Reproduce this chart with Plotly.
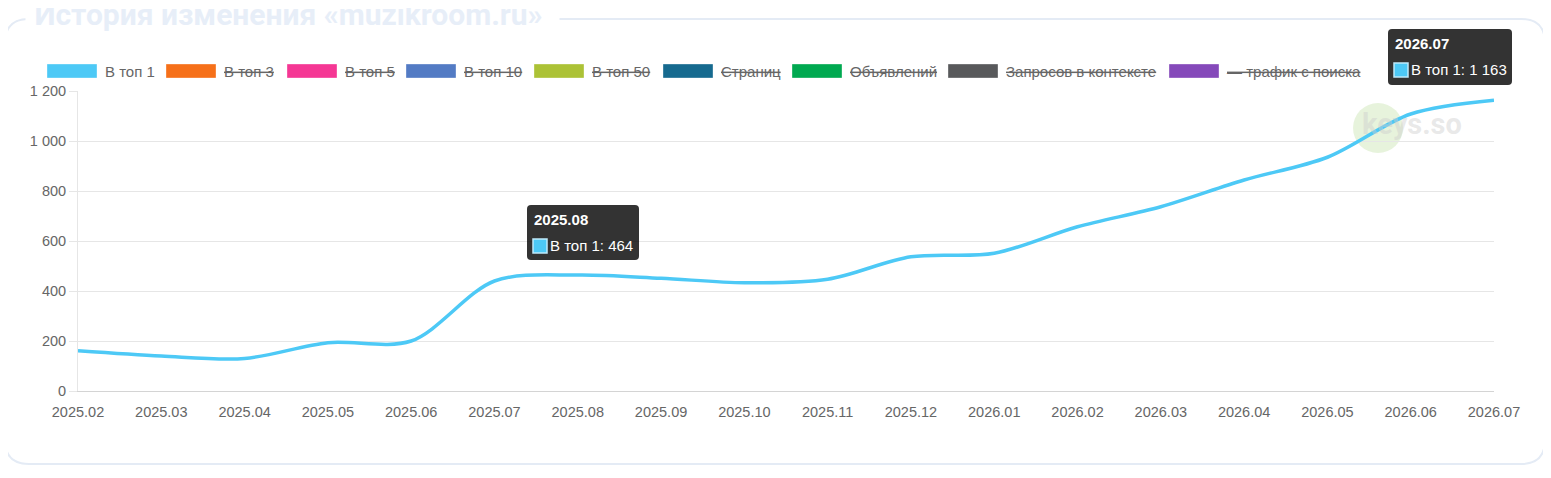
import plotly.graph_objects as go

# ── 1. DATOS ──────────────────────────────────────────────────────────────────
meses = ['2025.02', '2025.03', '2025.04', '2025.05', '2025.06', '2025.07',
         '2025.08', '2025.09', '2025.10', '2025.11', '2025.12', '2026.01',
         '2026.02', '2026.03', '2026.04', '2026.05', '2026.06', '2026.07']
top1 = [161, 140, 130, 193, 200, 440, 464, 451, 433, 447, 537, 551,
        657, 737, 844, 935, 1108, 1163]

series_nombres = ['В топ 1', 'В топ 3', 'В топ 5', 'В топ 10', 'В топ 50',
                  'Страниц', 'Объявлений', 'Запросов в контексте', '— трафик с поиска']
series_colores = ['#4dc9f6', '#f67019', '#f53794', '#537bc4', '#acc236',
                  '#166a8f', '#00a950', '#58595b', '#8549ba']
series_ocultas = [False, True, True, True, True, True, True, True, True]

tooltip_meses = ['2025.08', '2026.07']

titulo = 'История изменения «muzikroom.ru»'

# ── 2. GEOMETRÍA (px de la ventana; la página tiene 8 px de margen) ───────────
OFF = 8
W, H = 1551 - OFF, 478 - OFF
L, R, T, B = 78, 1494, 91, 391          # coordenadas en la ventana

def px(x):
    return (x - L) / (R - L)

def py(y):
    return (B - y) / (B - T)

def caja_redondeada(x0, y0, x1, y1, r):
    return (f"M {px(x0 + r)},{py(y0)} L {px(x1 - r)},{py(y0)} "
            f"Q {px(x1)},{py(y0)} {px(x1)},{py(y0 + r)} "
            f"L {px(x1)},{py(y1 - r)} Q {px(x1)},{py(y1)} {px(x1 - r)},{py(y1)} "
            f"L {px(x0 + r)},{py(y1)} Q {px(x0)},{py(y1)} {px(x0)},{py(y1 - r)} "
            f"L {px(x0)},{py(y0 + r)} Q {px(x0)},{py(y0)} {px(x0 + r)},{py(y0)} Z")

def fmt(v):
    return f"{v:,}".replace(',', ' ')

FUENTE = 'Liberation Sans, Arial, sans-serif'
GRIS = '#666666'

# ── 3. GRÁFICO ────────────────────────────────────────────────────────────────
fig = go.Figure()

fig.add_trace(go.Scatter(
    x=meses, y=top1,
    mode='lines',
    name=series_nombres[0],
    line=dict(color=series_colores[0], width=3.5, shape='spline', smoothing=0.9),
    showlegend=False,
))

shapes = []
annotations = []

# tarjeta con borde redondeado
shapes.append(dict(type='path', xref='paper', yref='paper', layer='below',
                   path=caja_redondeada(5, 19, 1545, 464, 24),
                   line=dict(color='#e4ebf5', width=2), fillcolor='white'))

# título tipo fieldset
annotations.append(dict(
    xref='paper', yref='paper', x=px(25), y=py(15), xanchor='left', yanchor='middle',
    text=f'<b> {titulo}  </b>', showarrow=False, bgcolor='white',
    font=dict(family='Roboto, sans-serif', size=30, color='#e7eef8'),
))

# marca de agua keys.so
shapes.append(dict(type='circle', xref='paper', yref='paper', layer='below',
                   x0=px(1353), x1=px(1403), y0=py(103), y1=py(153),
                   fillcolor='rgba(185,222,155,0.35)', line=dict(width=0)))
annotations.append(dict(
    xref='paper', yref='paper', x=px(1412), y=py(124), xanchor='center', yanchor='middle',
    text='<b>keys.so</b>', showarrow=False,
    font=dict(family='Roboto, sans-serif', size=29, color='rgba(205,205,205,0.45)'),
))

# leyenda manual (estilo Chart.js: elementos ocultos tachados)
leyenda_x = [47, 166, 287, 406, 534, 663, 792, 948, 1169]
for nombre, color, oculta, x0 in zip(series_nombres, series_colores, series_ocultas, leyenda_x):
    shapes.append(dict(type='rect', xref='paper', yref='paper', layer='above',
                       x0=px(x0), x1=px(x0 + 50), y0=py(64), y1=py(78),
                       fillcolor=color, line=dict(color='rgba(255,255,255,0.35)', width=1)))
    annotations.append(dict(
        xref='paper', yref='paper', x=px(x0 + 56), y=py(71), xanchor='left', yanchor='middle',
        text=nombre, showarrow=False,
        font=dict(family=FUENTE, size=15, color=GRIS,
                  lineposition='through' if oculta else 'none'),
    ))

# tooltips
tooltip_cajas = [(527, 205, 639, 260), (1388, 29, 1512, 85)]
for mes, (x0, y0, x1, y1) in zip(tooltip_meses, tooltip_cajas):
    v = top1[meses.index(mes)]
    shapes.append(dict(type='path', xref='paper', yref='paper', layer='above',
                       path=caja_redondeada(x0, y0, x1, y1, 4),
                       fillcolor='rgba(0,0,0,0.8)', line=dict(width=0)))
    shapes.append(dict(type='rect', xref='paper', yref='paper', layer='above',
                       x0=px(x0 + 6), x1=px(x0 + 20), y0=py(y0 + 34), y1=py(y0 + 48),
                       fillcolor=series_colores[0], line=dict(color='#bfeafc', width=1.5)))
    annotations.append(dict(
        xref='paper', yref='paper', x=px(x0 + 5), y=py(y0 + 14), xanchor='left', yanchor='middle',
        text=f'<b>{mes}</b>', showarrow=False,
        font=dict(family=FUENTE, size=15, color='white'),
    ))
    annotations.append(dict(
        xref='paper', yref='paper', x=px(x0 + 21), y=py(y0 + 41), xanchor='left', yanchor='middle',
        text=f'{series_nombres[0]}: {fmt(v)}', showarrow=False,
        font=dict(family=FUENTE, size=15, color='white'),
    ))

# ── 4. DISEÑO ─────────────────────────────────────────────────────────────────
fig.update_layout(
    width=W, height=H,
    margin=dict(l=L - OFF, r=W - (R - OFF), t=T - OFF, b=H - (B - OFF), pad=0),
    paper_bgcolor='white',
    plot_bgcolor='white',
    separators=', ',
    font=dict(family=FUENTE, size=14, color=GRIS),
    shapes=shapes,
    annotations=annotations,
    xaxis=dict(
        type='category',
        range=[0, len(meses) - 1],
        showgrid=False,
        showline=True, linecolor='#d4d4d4', linewidth=1,
        ticks='', ticklabelstandoff=8,
        tickfont=dict(size=14.5, color=GRIS),
        fixedrange=True,
    ),
    yaxis=dict(
        range=[0, 1200],
        dtick=200,
        separatethousands=True,
        showgrid=True, gridcolor='#e6e6e6', gridwidth=1,
        zeroline=False,
        showline=True, linecolor='#e6e6e6',
        ticks='outside', ticklen=8, tickcolor='#e6e6e6',
        tickfont=dict(size=14.5, color=GRIS),
        fixedrange=True,
    ),
    showlegend=False,
)

fig.write_html('out.html')
